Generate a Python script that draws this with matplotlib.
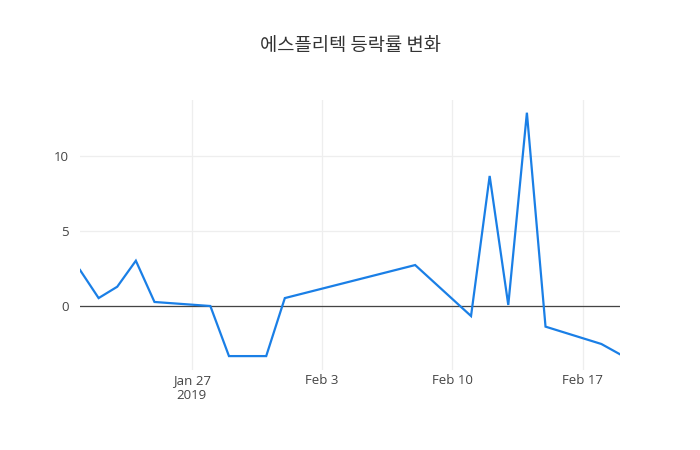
import matplotlib
matplotlib.use("Agg")
import matplotlib.pyplot as plt
import pandas as pd

plt.rcParams['font.family'] = ['Open Sans', 'Noto Sans CJK KR', 'DejaVu Sans']

# 에스플리텍 daily change rate (%)
dates = pd.to_datetime([
    "2019-01-21", "2019-01-22", "2019-01-23", "2019-01-24", "2019-01-25",
    "2019-01-28", "2019-01-29", "2019-01-31", "2019-02-01", "2019-02-08",
    "2019-02-11", "2019-02-12", "2019-02-13", "2019-02-14", "2019-02-15",
    "2019-02-18", "2019-02-19",
])
rates = [2.39, 0.51, 1.27, 3.01, 0.25,
         -0.02, -3.37, -3.37, 0.51, 2.72,
         -0.69, 8.68, 0.05, 12.91, -1.40,
         -2.56, -3.25]

tick_dates = pd.to_datetime(["2019-01-27", "2019-02-03", "2019-02-10", "2019-02-17"])
tick_labels = ["Jan 27\n2019", "Feb 3", "Feb 10", "Feb 17"]
y_ticks = [0, 5, 10]

fig = plt.figure(figsize=(7, 4.5), dpi=100)
ax = fig.add_axes([80 / 700, 80 / 450, 540 / 700, 270 / 450])

ax.plot(dates, rates, color="#1a7fe6", linewidth=1.6, solid_joinstyle="miter", zorder=3)
ax.axhline(0, color="#444444", linewidth=0.9, zorder=2)

ax.set_xlim(dates[0], dates[-1])
ax.set_ylim(-4.3, 13.76)

ax.set_xticks(tick_dates)
ax.set_xticklabels(tick_labels, linespacing=1.2)
ax.set_yticks(y_ticks)
ax.grid(True, color="#eeeeee", linewidth=0.9, zorder=0)
ax.set_axisbelow(True)

for s in ax.spines.values():
    s.set_visible(False)
ax.tick_params(length=0, colors="#444444", labelsize=9.5)
ax.tick_params(axis="x", pad=3)
ax.tick_params(axis="y", pad=8)

fig.text(0.5, 1 - 45 / 450, "에스플리텍 등락률 변화", ha="center", va="center",
         fontsize=13.5, color="#333333", family=['Noto Sans CJK KR', 'DejaVu Sans'])

fig.savefig("out.png", dpi=100)
